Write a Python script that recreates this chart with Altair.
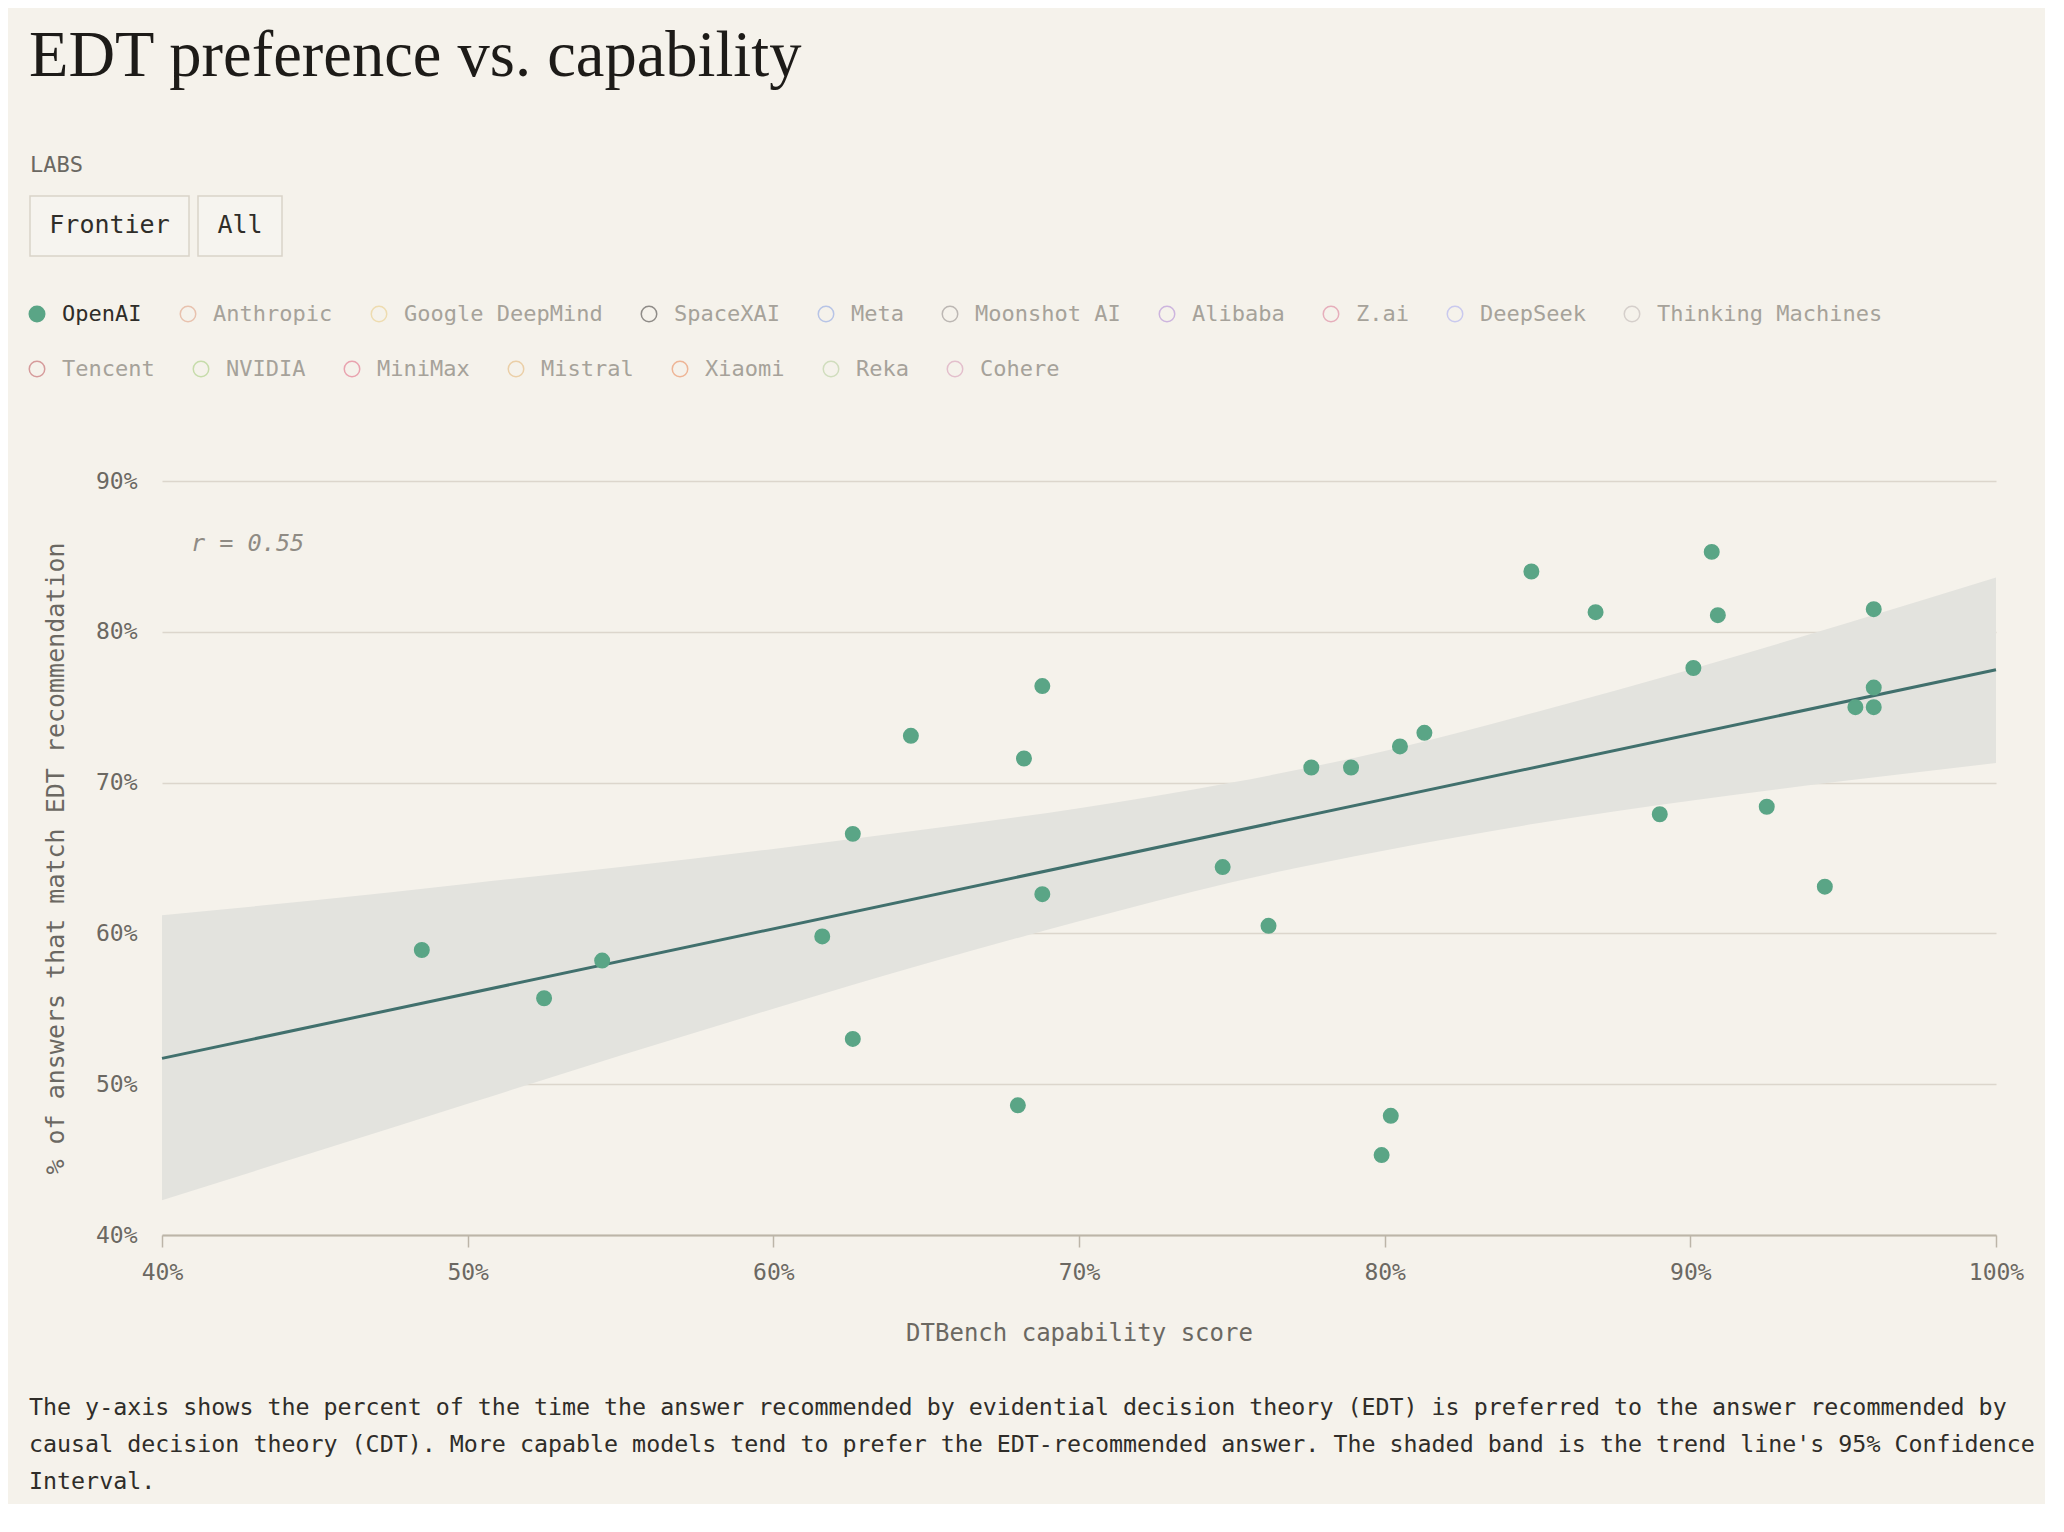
import altair as alt
import pandas as pd

# Labs listed in the legend (two rows); only OpenAI is switched on in the reference view
labs = [
    "OpenAI", "Anthropic", "Google DeepMind", "SpaceXAI", "Meta", "Moonshot AI",
    "Alibaba", "Z.ai", "DeepSeek", "Thinking Machines", "Tencent", "NVIDIA",
    "MiniMax", "Mistral", "Xiaomi", "Reka", "Cohere",
]
lab_colors = [
    "#5aa586", "#e8c2ae", "#eedcb0", "#8f8c88", "#b7c4e6", "#bcb7b3",
    "#cdb5de", "#e6aebb", "#c9c9ee", "#d5cfcb", "#d69b9b", "#c6dcaa",
    "#e9a3af", "#ebcfa7", "#eeb596", "#d0ddbd", "#e3bfcc",
]
labs_per_row = 10
active_labs = ["OpenAI"]

# OpenAI models: DTBench capability score (%) vs. % of answers matching EDT
capability = [
    48.5, 52.5, 54.4, 61.6, 62.6, 62.6, 64.5, 68.0, 68.2, 68.8, 68.8,
    74.7, 76.2, 77.6, 78.9, 79.9, 80.2, 80.5, 81.3, 84.8, 86.9, 89.0,
    90.1, 90.7, 90.9, 92.5, 94.4, 95.4, 96.0, 96.0, 96.0,
]
edt_match = [
    58.9, 55.7, 58.2, 59.8, 66.6, 53.0, 73.1, 48.6, 71.6, 76.4, 62.6,
    64.4, 60.5, 71.0, 71.0, 45.3, 47.9, 72.4, 73.3, 84.0, 81.3, 67.9,
    77.6, 85.3, 81.1, 68.4, 63.1, 75.0, 81.5, 76.3, 75.0,
]

# 95% confidence band of the trend line
band_x = [40, 45, 50, 55, 60, 65, 70, 75, 80, 85, 90, 95, 100]
band_upper = [61.2, 62.2, 63.3, 64.4, 65.6, 66.9, 68.3, 70.0, 72.1, 74.7, 77.5, 80.5, 83.6]
band_lower = [42.3, 45.5, 48.7, 51.9, 55.0, 58.0, 60.8, 63.4, 65.5, 67.3, 68.8, 70.1, 71.3]

x_ticks = [40, 50, 60, 70, 80, 90, 100]
y_ticks = [40, 50, 60, 70, 80, 90]

title_text = "EDT preference vs. capability"
r_text = "r = 0.55"
filter_heading = "LABS"
filter_buttons = ["Frontier", "All"]
caption_lines = [
    "The y-axis shows the percent of the time the answer recommended by evidential decision theory (EDT) is preferred to the answer recommended by",
    "causal decision theory (CDT). More capable models tend to prefer the EDT-recommended answer. The shaded band is the trend line's 95% Confidence",
    "Interval.",
]

MONO = "DejaVu Sans Mono"
SERIF = "Liberation Serif"
BG = "#f5f2eb"
INK = "#2f2d29"
MUTED = "#6b6862"

points_df = pd.DataFrame({"capability": capability, "edt_match": edt_match, "lab": "OpenAI"})
band_df = pd.DataFrame({"capability": band_x, "upper": band_upper, "lower": band_lower})

x_scale = alt.Scale(domain=[40, 100], nice=False, zero=False)
y_scale = alt.Scale(domain=[40, 90], nice=False, zero=False)

x_axis = alt.Axis(
    title="DTBench capability score",
    values=x_ticks,
    labelExpr="datum.value + '%'",
    grid=False,
    domainColor="#bcb5a8",
    domainWidth=2,
    tickColor="#bcb5a8",
    tickWidth=1.5,
    tickSize=12,
    labelPadding=14,
    labelFlush=False,
    titlePadding=37,
)
y_axis = alt.Axis(
    title="% of answers that match EDT recommendation",
    values=y_ticks,
    labelExpr="datum.value + '%'",
    domain=False,
    ticks=False,
    tickSize=0,
    labelPadding=25,
    gridColor="#dcd6cc",
    gridWidth=1.5,
    titlePadding=27,
    titleFontSize=25,
)


def x_enc(field):
    return alt.X(f"{field}:Q", scale=x_scale, axis=x_axis)


def y_enc(field):
    return alt.Y(f"{field}:Q", scale=y_scale, axis=y_axis)


band = (
    alt.Chart(band_df)
    .mark_area(color="#e3e3de", interpolate="monotone")
    .encode(x=x_enc("capability"), y=y_enc("upper"), y2="lower:Q")
)

trend = (
    alt.Chart(points_df)
    .transform_regression("capability", "edt_match", extent=[40, 100])
    .mark_line(color="#41706d", strokeWidth=3)
    .encode(x=x_enc("capability"), y=y_enc("edt_match"))
)

label_color = {
    "expr": "indexof(" + str(active_labs) + ", datum.label) >= 0 ? '" + INK + "' : '#a6a29a'"
}


def lab_channels(row_labs, row_colors, legend_y):
    legend = alt.Legend(
        title=None,
        orient="none",
        direction="horizontal",
        legendX=-136,
        legendY=legend_y,
        columns=labs_per_row,
        labelFont=MONO,
        labelFontSize=22,
        labelColor=label_color,
        labelLimit=0,
        labelOffset=14,
        columnPadding=35,
        symbolType="circle",
        symbolSize=240,
        symbolStrokeWidth=1.5,
        padding=0,
    )
    fill_range = [c if lab in active_labs else "transparent" for lab, c in zip(row_labs, row_colors)]
    return {
        "fill": alt.Fill("lab:N", scale=alt.Scale(domain=row_labs, range=fill_range), legend=legend),
        "stroke": alt.Stroke("lab:N", scale=alt.Scale(domain=row_labs, range=row_colors), legend=legend),
    }


points = (
    alt.Chart(points_df)
    .mark_point(filled=True, size=210, strokeWidth=1.5, opacity=1)
    .encode(
        x=x_enc("capability"),
        y=y_enc("edt_match"),
        tooltip=[
            alt.Tooltip("capability:Q", title="DTBench"),
            alt.Tooltip("edt_match:Q", title="EDT match"),
        ],
        **lab_channels(labs[:labs_per_row], lab_colors[:labs_per_row], -178),
    )
)

# second legend row: labs without models in this view
legend_row_2 = (
    alt.Chart(points_df)
    .transform_filter("false")
    .mark_point(filled=True, size=210, strokeWidth=1.5, opacity=1)
    .encode(**lab_channels(labs[labs_per_row:], lab_colors[labs_per_row:], -123))
)

r_label = (
    alt.Chart(pd.DataFrame({"t": [r_text]}))
    .mark_text(align="left", baseline="middle", font=MONO, fontStyle="italic", fontSize=23.5, color="#8f8b84")
    .encode(x=alt.value(29), y=alt.value(63), text="t:N")
)

heading = (
    alt.Chart(pd.DataFrame({"t": [filter_heading]}))
    .mark_text(align="left", baseline="middle", font=MONO, fontSize=22, color=MUTED)
    .encode(x=alt.value(-132), y=alt.value(-316), text="t:N")
)


def button(label, x0, x1):
    box = (
        alt.Chart(pd.DataFrame({"t": [label]}))
        .mark_rect(fill="#f6f4ef", stroke="#d9d3c9", strokeWidth=1.5)
        .encode(x=alt.value(x0), x2=alt.value(x1), y=alt.value(-285), y2=alt.value(-225))
    )
    text = (
        alt.Chart(pd.DataFrame({"t": [label]}))
        .mark_text(align="center", baseline="middle", font=MONO, fontSize=25, color=INK)
        .encode(x=alt.value((x0 + x1) / 2), y=alt.value(-256), text="t:N")
    )
    return box + text


caption = (
    alt.Chart(pd.DataFrame({"t": [0]}))
    .mark_text(align="left", baseline="middle", font=MONO, fontSize=23.3, lineHeight=37, color=INK)
    .encode(x=alt.value(-133), y=alt.value(927), text=alt.value(caption_lines))
)

chart = (
    alt.layer(
        band,
        trend,
        points,
        legend_row_2,
        r_label,
        heading,
        button(filter_buttons[0], -132, 27),
        button(filter_buttons[1], 36, 120),
        caption,
    )
    .resolve_scale(fill="independent", stroke="independent")
    .properties(
        width=1834,
        height=754,
        title=alt.TitleParams(
            text=title_text,
            font=SERIF,
            fontSize=64.5,
            fontWeight="normal",
            color="#1d1b18",
            anchor="start",
            frame="bounds",
            dx=3,
            offset=65,
        ),
    )
    .configure(background=BG, padding={"left": 18, "top": 15, "right": 10, "bottom": 10})
    .configure_view(strokeOpacity=0)
    .configure_axis(
        labelFont=MONO,
        titleFont=MONO,
        labelFontSize=23,
        titleFontSize=24,
        labelColor=MUTED,
        titleColor=MUTED,
        titleFontWeight="normal",
    )
)

chart.save("out.html", embed_options={"renderer": "svg", "actions": False})
